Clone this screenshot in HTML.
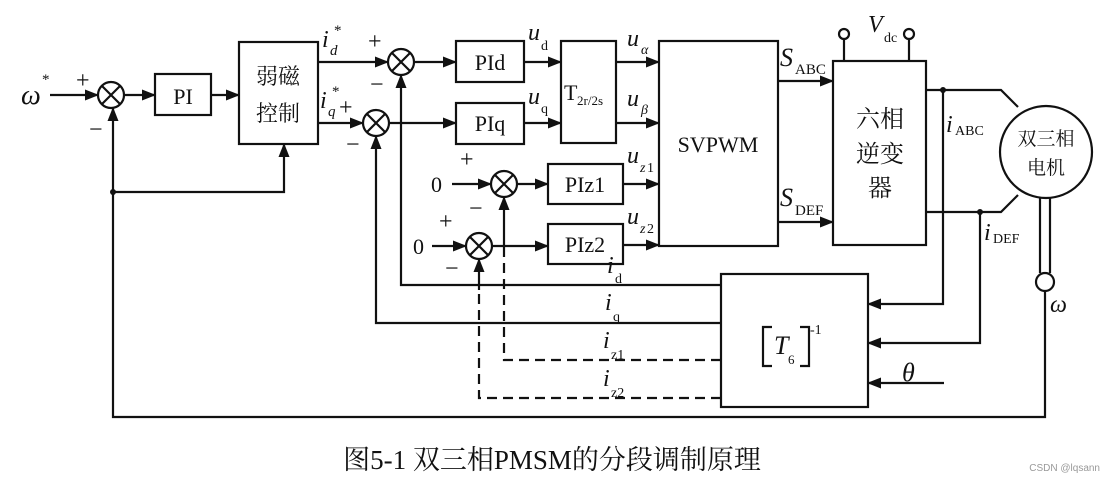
<!DOCTYPE html>
<html><head><meta charset="utf-8"><style>
html,body{margin:0;padding:0;background:#fff}
svg{display:block}
text{font-family:"Liberation Serif","Noto Serif CJK SC",serif;fill:#111}
.it{font-style:italic}
</style></head><body>
<svg width="1107" height="481" viewBox="0 0 1107 481" xmlns="http://www.w3.org/2000/svg">
<defs>
<marker id="a" markerUnits="userSpaceOnUse" markerWidth="14" markerHeight="12" refX="13" refY="5.5" orient="auto"><path d="M0,0 L14,5.5 L0,11 z" fill="#111"/></marker>
</defs>
<g stroke="#111" stroke-width="2.2" fill="none">
<rect x="155" y="74" width="56" height="41"/>
<rect x="239" y="42" width="79" height="102"/>
<rect x="456" y="41" width="68" height="41"/>
<rect x="456" y="103" width="68" height="41"/>
<rect x="561" y="41" width="55" height="102"/>
<rect x="548" y="164" width="75" height="40"/>
<rect x="548" y="224" width="75" height="40"/>
<rect x="659" y="41" width="119" height="205"/>
<rect x="833" y="61" width="93" height="184"/>
<rect x="721" y="274" width="147" height="133"/>
<circle cx="1046" cy="152" r="46"/>
<g>
<circle cx="111" cy="95" r="13"/><path d="M102,86 L120,104 M120,86 L102,104"/>
<circle cx="401" cy="62" r="13"/><path d="M392,53 L410,71 M410,53 L392,71"/>
<circle cx="376" cy="123" r="13"/><path d="M367,114 L385,132 M385,114 L367,132"/>
<circle cx="504" cy="184" r="13"/><path d="M495,175 L513,193 M513,175 L495,193"/>
<circle cx="479" cy="246" r="13"/><path d="M470,237 L488,255 M488,237 L470,255"/>
</g>
<g marker-end="url(#a)">
<path d="M50,95 H98"/>
<path d="M124,95 H155"/>
<path d="M211,95 H239"/>
<path d="M318,62 H388"/>
<path d="M414,62 H456"/>
<path d="M318,123 H363"/>
<path d="M389,123 H456"/>
<path d="M524,62 H561"/>
<path d="M524,123 H561"/>
<path d="M616,62 H659"/>
<path d="M616,123 H659"/>
<path d="M452,184 H491"/>
<path d="M517,184 H548"/>
<path d="M623,184 H659"/>
<path d="M432,246 H466"/>
<path d="M492,246 H548"/>
<path d="M623,245 H659"/>
<path d="M778,81 H833"/>
<path d="M778,222 H833"/>
<path d="M721,285 H401 V75"/>
<path d="M721,323 H376 V136"/>
<path d="M504,255 V197"/>
<path d="M479,290 V259"/>
<path d="M1045,291 V417 H113 V108"/>
<path d="M113,192 H284 V144"/>
<path d="M943,90 V304 H868"/>
<path d="M980,212 V343 H868"/>
<path d="M944,383 H868"/>
</g>
<path d="M721,360 H504 V255" stroke-dasharray="10,6"/>
<path d="M721,398 H479 V290" stroke-dasharray="10,6"/>
<path d="M926,90 H1001 L1018,107"/>
<path d="M926,212 H1001 L1018,195"/>
<path d="M1040,198 V273 M1050,198 V273"/>
<circle cx="1045" cy="282" r="9"/>
<path d="M844,61 V39 M909,61 V39"/>
<circle cx="844" cy="34" r="5"/><circle cx="909" cy="34" r="5"/>
<path d="M772,327 h-9 v39 h9 M800,327 h9 v39 h-9"/>
</g>
<g fill="#111">
<circle cx="113" cy="192" r="3"/>
<circle cx="943" cy="90" r="3"/>
<circle cx="980" cy="212" r="3"/>
</g>
<text x="21" y="104" font-size="28" class="it">ω</text><text x="42" y="84" font-size="15">*</text>
<text x="76" y="88" font-size="24">+</text><text x="89" y="137" font-size="24">−</text>
<text x="183" y="104" font-size="22" text-anchor="middle">PI</text>
<text x="278" y="84" font-size="22" text-anchor="middle">弱磁</text>
<text x="278" y="121" font-size="22" text-anchor="middle">控制</text>
<text x="322" y="47" font-size="24" class="it">i</text><text x="330" y="55" font-size="15" class="it">d</text><text x="334" y="35" font-size="15">*</text>
<text x="320" y="108" font-size="24" class="it">i</text><text x="328" y="116" font-size="15" class="it">q</text><text x="332" y="96" font-size="15">*</text>
<text x="339" y="115" font-size="24">+</text>
<text x="368" y="49" font-size="24">+</text><text x="370" y="92" font-size="24">−</text>
<text x="346" y="152" font-size="24">−</text>
<text x="490" y="70" font-size="22" text-anchor="middle">PId</text>
<text x="490" y="131" font-size="22" text-anchor="middle">PIq</text>
<text x="528" y="40" font-size="24" class="it">u</text><text x="541" y="50" font-size="14">d</text>
<text x="528" y="104" font-size="24" class="it">u</text><text x="541" y="113" font-size="14">q</text>
<text x="564" y="100" font-size="22">T</text><text x="577" y="105" font-size="13">2r/2s</text>
<text x="627" y="46" font-size="24" class="it">u</text><text x="641" y="54" font-size="14" class="it">α</text>
<text x="627" y="106" font-size="24" class="it">u</text><text x="641" y="114" font-size="14" class="it">β</text>
<text x="627" y="163" font-size="24" class="it">u</text><text x="640" y="172" font-size="14" class="it">z</text><text x="647" y="172" font-size="14">1</text>
<text x="627" y="224" font-size="24" class="it">u</text><text x="640" y="233" font-size="14" class="it">z</text><text x="647" y="233" font-size="14">2</text>
<text x="431" y="192" font-size="22">0</text><text x="460" y="167" font-size="24">+</text><text x="469" y="216" font-size="24">−</text>
<text x="413" y="254" font-size="22">0</text><text x="439" y="229" font-size="24">+</text><text x="445" y="276" font-size="24">−</text>
<text x="585" y="192" font-size="22" text-anchor="middle">PIz1</text>
<text x="585" y="252" font-size="22" text-anchor="middle">PIz2</text>
<text x="718" y="152" font-size="22" text-anchor="middle">SVPWM</text>
<text x="780" y="66" font-size="26" class="it">S</text><text x="795" y="74" font-size="15">ABC</text>
<text x="780" y="206" font-size="26" class="it">S</text><text x="795" y="215" font-size="15">DEF</text>
<text x="868" y="32" font-size="24" class="it">V</text><text x="884" y="42" font-size="14">dc</text>
<text x="880" y="127" font-size="24" text-anchor="middle">六相</text>
<text x="880" y="162" font-size="24" text-anchor="middle">逆变</text>
<text x="880" y="196" font-size="24" text-anchor="middle">器</text>
<text x="1046" y="145" font-size="19" text-anchor="middle">双三相</text>
<text x="1046" y="174" font-size="19" text-anchor="middle">电机</text>
<text x="946" y="132" font-size="24" class="it">i</text><text x="955" y="135" font-size="14">ABC</text>
<text x="984" y="240" font-size="24" class="it">i</text><text x="993" y="243" font-size="14">DEF</text>
<text x="1050" y="312" font-size="24" class="it">ω</text>
<text x="902" y="381" font-size="26" class="it">θ</text>
<text x="774" y="354" font-size="26" class="it">T</text><text x="788" y="364" font-size="13">6</text>
<text x="810" y="334" font-size="14">-1</text>
<text x="607" y="273" font-size="24" class="it">i</text><text x="615" y="283" font-size="14">d</text>
<text x="605" y="310" font-size="24" class="it">i</text><text x="613" y="321" font-size="14">q</text>
<text x="603" y="348" font-size="24" class="it">i</text><text x="611" y="359" font-size="14">z1</text>
<text x="603" y="386" font-size="24" class="it">i</text><text x="611" y="397" font-size="14">z2</text>
<text x="552" y="469" font-size="27" text-anchor="middle">图5-1  双三相PMSM的分段调制原理</text>
<text x="1100" y="471" font-size="10" text-anchor="end" style="font-family:'Liberation Sans',sans-serif;fill:#999">CSDN @lqsann</text>
</svg>
</body></html>
